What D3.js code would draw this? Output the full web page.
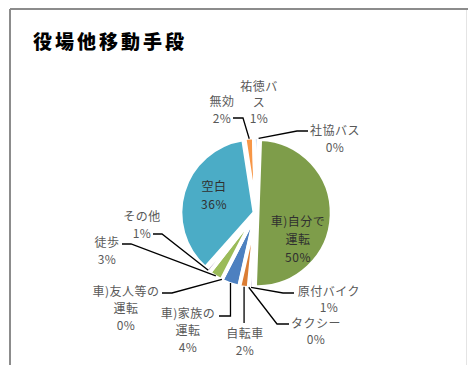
<!DOCTYPE html>
<html>
<head>
<meta charset="utf-8">
<script src="https://cdn.jsdelivr.net/npm/d3@7"></script>
<style>
  html, body { margin: 0; padding: 0; background: #fff; }
  svg { display: block; }
  text { font-family: "Noto Sans CJK JP", "Noto Sans", sans-serif; }
</style>
</head>
<body>
<svg id="chart" width="468" height="365"></svg>
<script>
// Survey: means of transport to the town office, share of answers (%)
const categories = ["車)家族の運転", "車)友人等の運転", "徒歩", "その他", "空白", "無効",
                    "祐徳バス", "社協バス", "車)自分で運転", "原付バイク", "タクシー", "自転車"];
const shares = [4, 0, 3, 1, 36, 2, 1, 0, 50, 1, 0, 2];
const labelRows = [["車)家族の", "運転"], ["車)友人等の", "運転"], ["徒歩"], ["その他"], ["空白"], ["無効"],
                   ["祐徳バ", "ス"], ["社協バス"], ["車)自分で", "運転"], ["原付バイク"], ["タクシー"], ["自転車"]];
const sliceColors = ["#4D80C0", "#C0504D", "#9BBB59", "#B3A2C7", "#4BACC6", "#F79646",
                     "#8EB4E3", "#772C2A", "#7E9D4A", "#CCC1DA", "#31859C", "#DB7D34"];
const chartTitle = "役場他移動手段";

// Geometry and label layout
const cx = 256, cy = 213, radius = 74, explode = 1.6;
const startDeg = 192.8;
// label block: text centre x, first line centre y, line step, inside flag, leader elbows
const labelLayout = [
  { x: 188, y: 312, step: 17, leader: [["v", 316], [219, 316]] },
  { x: 126, y: 290, step: 17, leader: [[172, 293], [162, 293]] },
  { x: 107, y: 241, step: 17, leader: [[131, 244], [122, 244]] },
  { x: 142, y: 215, step: 17, leader: [[162, 234], [153, 234]] },
  { x: 214, y: 185, step: 18, inside: true },
  { x: 222, y: 100, step: 17, leader: [[243, 118], [233, 118]] },
  { x: 259, y: 85, step: 16, leader: null },
  { x: 335, y: 129, step: 17, leader: [[297, 131], [308, 131]] },
  { x: 298, y: 220, step: 18, inside: true },
  { x: 329, y: 290, step: 16, leader: [[283, 293], [294, 293]] },
  { x: 316, y: 322, step: 16, leader: [[277, 324], [289, 324]] },
  { x: 245, y: 332, step: 17, leader: [["v", 323]] }
];

const svg = d3.select("#chart");

// chart-area frame
svg.append("path").attr("d", "M10,9H468M10,9V365")
  .attr("fill", "none").attr("stroke", "#8c8c8c").attr("stroke-width", 2);
svg.append("line").attr("x1", 466.5).attr("x2", 466.5).attr("y1", 10).attr("y2", 365)
  .attr("stroke", "#e4e4e4").attr("stroke-width", 1);

// title
svg.append("text").attr("x", 33).attr("y", 49)
  .attr("font-size", 19).attr("font-weight", 900).attr("letter-spacing", 3)
  .attr("fill", "#000").text(chartTitle);

const rows = categories.map((c, i) => ({ name: c, value: shares[i], color: sliceColors[i], idx: i }));

const start = startDeg * Math.PI / 180;
const pie = d3.pie().sort(null).value(d => d.value)
  .startAngle(start).endAngle(start + 2 * Math.PI);
const arcs = pie(rows);
const arc = d3.arc().innerRadius(0).outerRadius(radius);
const midA = d => (d.startAngle + d.endAngle) / 2;

const g = svg.append("g").attr("transform", `translate(${cx},${cy})`);
g.selectAll("path.slice").data(arcs).join("path")
  .attr("class", "slice")
  .attr("transform", d => `translate(${Math.sin(midA(d)) * explode},${-Math.cos(midA(d)) * explode})`)
  .attr("d", arc)
  .attr("fill", d => d.data.color)
  .attr("stroke", "#fff").attr("stroke-width", 3.8).attr("stroke-linejoin", "round");

// leader lines
const edgeR = radius + explode - 1;
arcs.forEach(d => {
  const lay = labelLayout[d.data.idx];
  if (lay.inside || !lay.leader) return;
  const a = midA(d);
  const px = cx + Math.sin(a) * edgeR, py = cy - Math.cos(a) * edgeR;
  const pts = [[px, py]].concat(lay.leader.map(p => [p[0] === "v" ? px : p[0], p[1]]));
  svg.append("path").attr("d", d3.line()(pts))
    .attr("fill", "none").attr("stroke", "#000").attr("stroke-width", 1.3);
});

// data labels
arcs.forEach(d => {
  const lay = labelLayout[d.data.idx];
  const lines = labelRows[d.data.idx].concat([d.data.value + "%"]);
  const t = svg.append("text")
    .attr("text-anchor", "middle")
    .attr("font-size", 12)
    .attr("letter-spacing", 0.5)
    .attr("fill", lay.inside ? "#303030" : "#595959");
  lines.forEach((s, k) => {
    t.append("tspan").attr("x", lay.x).attr("y", lay.y + k * lay.step)
      .attr("dominant-baseline", "central").text(s);
  });
});
</script>
</body>
</html>
